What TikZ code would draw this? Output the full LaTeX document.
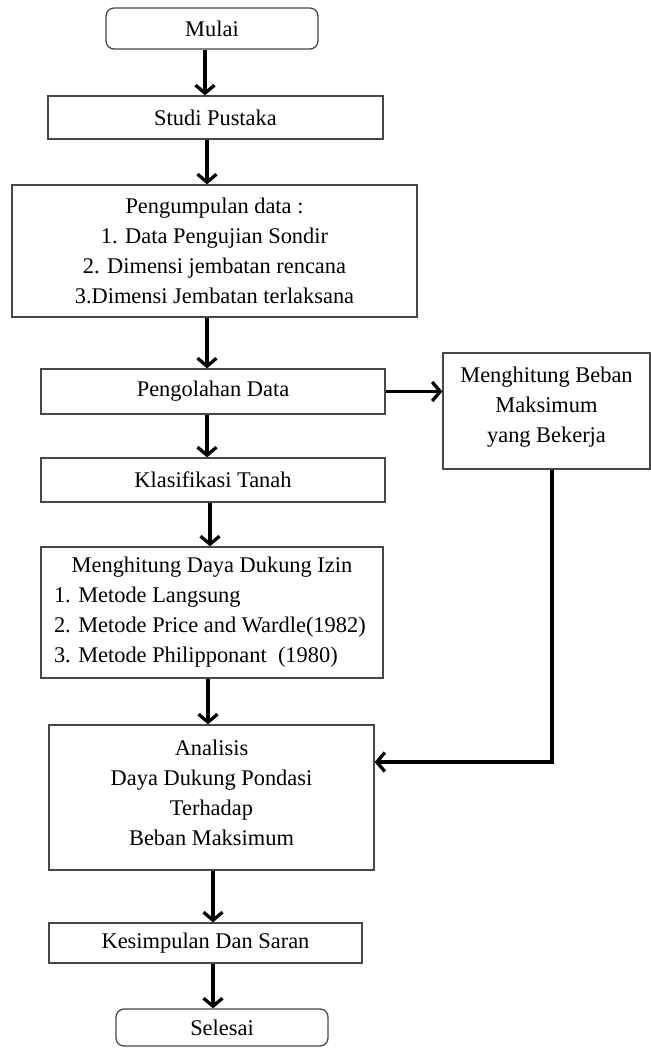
\documentclass[tikz,border=0pt]{standalone}
\usepackage{fontspec}
\setmainfont{Liberation Serif}
\usetikzlibrary{arrows.meta}
\tikzset{
  box/.style={draw=black!72, line width=1.3pt, fill=white, inner sep=0pt, align=center,
    font=\fontsize{22.4}{30}\selectfont},
  term/.style={box, rounded corners=8pt},
  arr/.style={line width=3.3pt, -{Straight Barb[length=8pt,width=19pt,line width=3.3pt]}}
}
\begin{document}
\begin{tikzpicture}[x=1pt,y=-1pt]
\useasboundingbox (0,0) rectangle (650,1048);
\node[term, minimum width=212pt, minimum height=41pt] (mulai) at (212,28.5) {Mulai};
\node[box, minimum width=335pt, minimum height=43pt] (studi) at (215.5,117.5) {Studi Pustaka};
\node[box, minimum width=405pt, minimum height=132pt] (kumpul) at (214.5,251)
  {Pengumpulan data :\\ 1. Data Pengujian Sondir\\ 2. Dimensi jembatan rencana\\ 3.Dimensi Jembatan terlaksana};
\node[box, minimum width=344pt, minimum height=45pt] (olah) at (213,391.5) {Pengolahan Data};
\node[box, minimum width=207pt, minimum height=116pt, text depth=13pt] (beban) at (546.5,411)
  {Menghitung Beban\\ Maksimum\\ yang Bekerja};
\node[box, minimum width=344pt, minimum height=44pt] (klas) at (213,480) {Klasifikasi Tanah};
\node[box, minimum width=342pt, minimum height=131pt, align=left] (daya) at (212,612.5)
  {\makebox[316pt][c]{Menghitung Daya Dukung Izin}\\ 1. Metode Langsung\\ 2. Metode Price and Wardle(1982)\\ 3. Metode Philipponant\ \ (1980)};
\node[box, minimum width=325pt, minimum height=145pt, text depth=9pt] (analisis) at (211.5,797.5)
  {Analisis\\ Daya Dukung Pondasi\\ Terhadap\\ Beban Maksimum};
\node[box, minimum width=313pt, minimum height=40pt] (simpul) at (205.5,943) {Kesimpulan Dan Saran};
\node[term, minimum width=212pt, minimum height=37pt] (selesai) at (222,1027.5) {Selesai};

\draw[arr] ([xshift=-7pt]mulai.south) -- ([xshift=-7pt]mulai.south |- studi.north);
\draw[arr] ([xshift=-8.5pt]studi.south) -- ([xshift=-8.5pt]studi.south |- kumpul.north);
\draw[arr] ([xshift=-7.5pt]kumpul.south) -- ([xshift=-7.5pt]kumpul.south |- olah.north);
\draw[arr] ([xshift=-6pt]olah.south) -- ([xshift=-6pt]olah.south |- klas.north);
\draw[arr] ([xshift=-3pt]klas.south) -- ([xshift=-3pt]klas.south |- daya.north);
\draw[arr] ([xshift=-4pt]daya.south) -- ([xshift=-4pt]daya.south |- analisis.north);
\draw[arr] ([xshift=1.5pt]analisis.south) -- ([xshift=1.5pt]analisis.south |- simpul.north);
\draw[arr] ([xshift=7.5pt]simpul.south) -- ([xshift=7.5pt]simpul.south |- selesai.north);
\draw[arr] (olah.east) -- (olah.east -| beban.west);
\draw[arr, line join=miter] ([xshift=5.5pt]beban.south) |- ([yshift=35.5pt]analisis.east);
\end{tikzpicture}
\end{document}
